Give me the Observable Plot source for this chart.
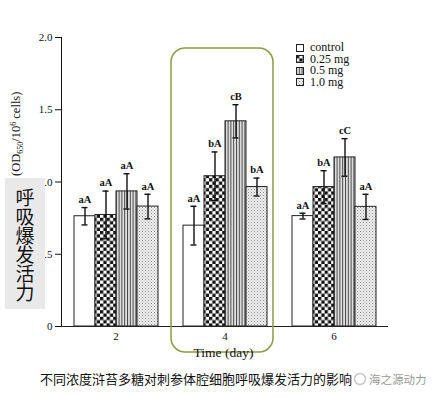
<!DOCTYPE html>
<html>
<head>
<meta charset="utf-8">
<script src="https://cdn.jsdelivr.net/npm/d3@7"></script>
<script src="https://cdn.jsdelivr.net/npm/@observablehq/plot@0.6"></script>
<style>
  html, body { margin: 0; padding: 0; background: white; }
  #wrap { position: relative; width: 432px; height: 397px; overflow: hidden; background: white; }
  #legend { position: absolute; left: 296px; top: 42px; font-family: 'Liberation Serif', serif; font-size: 12px; line-height: 11.5px; color: #111; }
  #legend div { display: flex; align-items: center; white-space: nowrap; }
  #legend svg { margin-right: 6px; }
  #cnbox { position: absolute; left: 5px; top: 178px; width: 40px; height: 131px; background: #e9e9e9;
           font-family: 'Noto Sans CJK SC', sans-serif; font-size: 19px; line-height: 19px; color: #111;
           display: flex; flex-direction: column; align-items: center; justify-content: center; }
  #caption { position: absolute; left: 40px; top: 369px; font-family: 'Noto Sans CJK SC', sans-serif; font-size: 13px; color: #111; white-space: nowrap; display: flex; align-items: center; }
  #caption .wm { color: #9a9a9a; font-size: 11.5px; margin-left: 2px; }
  #caption svg { margin-left: 1px; }
</style>
</head>
<body>
<div id="wrap">
  <div id="chart"></div>
  <div id="legend"></div>
  <div id="cnbox"></div>
  <div id="caption"></div>
</div>
<script>
// ---- data ----
const days = ["2", "4", "6"];
const series = ["control", "0.25 mg", "0.5 mg", "1.0 mg"];
const controlVals = [0.763, 0.698, 0.764];
const mg025Vals   = [0.772, 1.040, 0.965];
const mg05Vals    = [0.935, 1.420, 1.170];
const mg10Vals    = [0.830, 0.965, 0.828];
const controlErr  = [0.060, 0.134, 0.020];
const mg025Err    = [0.165, 0.168, 0.113];
const mg05Err     = [0.122, 0.115, 0.130];
const mg10Err     = [0.085, 0.062, 0.087];
const controlLbl  = ["aA", "aA", "aA"];
const mg025Lbl    = ["aA", "bA", "bA"];
const mg05Lbl     = ["aA", "cB", "cC"];
const mg10Lbl     = ["aA", "bA", "aA"];
const yTicks = [0, 0.5, 1.0, 1.5, 2.0];
const titleCN = "不同浓度浒苔多糖对刺参体腔细胞呼吸爆发活力的影响";
const watermark = "海之源动力";
const boxCN = "呼吸爆发活力";

const valArr = [controlVals, mg025Vals, mg05Vals, mg10Vals];
const errArr = [controlErr, mg025Err, mg05Err, mg10Err];
const lblArr = [controlLbl, mg025Lbl, mg05Lbl, mg10Lbl];
const rows = days.flatMap((day, i) => series.map((s, j) => ({
  day, series: s, value: valArr[j][i], err: errArr[j][i], label: lblArr[j][i]
})));

const fills = ["white", "url(#pChk)", "url(#pStr)", "url(#pDot)"];

const plot = Plot.plot({
  width: 432,
  height: 362,
  marginLeft: 60,
  marginRight: 44,
  marginTop: 37,
  marginBottom: 36,
  style: { fontFamily: "'Liberation Serif', serif", fontSize: "11px", background: "white", color: "#111" },
  facet: { data: rows, x: "day" },
  fx: { domain: days, padding: 0, label: null, tickSize: 0, tickPadding: 6 },
  x: { domain: series, paddingInner: 0, paddingOuter: 0.5, axis: null },
  y: { domain: [0, 2], ticks: yTicks, tickFormat: d => d === 0 ? "0" : d.toFixed(1), line: true, label: null, tickSize: 6, tickPadding: 3 },
  color: { domain: series, range: fills },
  marks: [
    Plot.barY(rows, { x: "series", y: "value", fill: "series", stroke: "#222", strokeWidth: 1 }),
    Plot.ruleX(rows, { x: "series", y1: d => d.value - d.err, y2: d => d.value + d.err, stroke: "#111", strokeWidth: 1.4 }),
    Plot.tickY(rows, { x: "series", y: d => d.value + d.err, insetLeft: 7.5, insetRight: 7.5, stroke: "#111", strokeWidth: 1.4 }),
    Plot.tickY(rows, { x: "series", y: d => d.value - d.err, insetLeft: 7.5, insetRight: 7.5, stroke: "#111", strokeWidth: 1.4 }),
    Plot.text(rows, { x: "series", y: d => d.value + d.err, text: "label", dy: -8, fontWeight: "bold", fontSize: 10.5, fill: "#111" }),
    Plot.ruleY([0], { stroke: "#222", strokeWidth: 1 })
  ]
});

const svg = d3.select(plot);
const defs = svg.insert("defs", ":first-child");
const chk = defs.append("pattern").attr("id", "pChk").attr("patternUnits", "userSpaceOnUse").attr("width", 6.6).attr("height", 6.6);
chk.append("rect").attr("width", 6.6).attr("height", 6.6).attr("fill", "white");
chk.append("rect").attr("width", 3.3).attr("height", 3.3).attr("fill", "#111");
chk.append("rect").attr("x", 3.3).attr("y", 3.3).attr("width", 3.3).attr("height", 3.3).attr("fill", "#111");
const str = defs.append("pattern").attr("id", "pStr").attr("patternUnits", "userSpaceOnUse").attr("width", 2.8).attr("height", 10);
str.append("rect").attr("width", 2.8).attr("height", 10).attr("fill", "#e2e2e2");
str.append("rect").attr("width", 1).attr("height", 10).attr("fill", "#444");
const dot = defs.append("pattern").attr("id", "pDot").attr("patternUnits", "userSpaceOnUse").attr("width", 3).attr("height", 3);
dot.append("rect").attr("width", 3).attr("height", 3).attr("fill", "#f0f0f0");
dot.append("rect").attr("width", 1).attr("height", 1).attr("fill", "#8a8a8a");
dot.append("rect").attr("x", 1.5).attr("y", 1.5).attr("width", 1).attr("height", 1).attr("fill", "#aaaaaa");

// highlight around day 4 using the fx scale
const fx = plot.scale("fx");
const ySc = plot.scale("y");
const x4 = fx.apply("4");
svg.append("rect")
  .attr("x", x4 + 1).attr("y", 48)
  .attr("width", fx.bandwidth - 7).attr("height", 304)
  .attr("rx", 14).attr("ry", 14)
  .attr("fill", "none").attr("stroke", "#8f9a45").attr("stroke-width", 1.5);

// x axis title
svg.append("text")
  .attr("x", x4 + fx.bandwidth / 2 - 1).attr("y", 357)
  .attr("text-anchor", "middle")
  .attr("font-family", "'Liberation Serif', serif").attr("font-size", 13.5).attr("fill", "#111")
  .text("Time (day)");

// y axis title with sub/superscripts
const yl = svg.append("text")
  .attr("transform", `translate(20,${ySc.apply(1.33)}) rotate(-90)`)
  .attr("text-anchor", "middle")
  .attr("font-family", "'Liberation Serif', serif").attr("font-size", 12.5).attr("fill", "#111");
yl.append("tspan").text("(OD");
yl.append("tspan").attr("dy", 3).attr("font-size", 8).text("650");
yl.append("tspan").attr("dy", -3).text("/10");
yl.append("tspan").attr("dy", -4).attr("font-size", 8).text("6");
yl.append("tspan").attr("dy", 4).text(" cells)");

document.getElementById("chart").appendChild(plot);

// legend
const leg = d3.select("#legend");
series.forEach((s, j) => {
  const row = leg.append("div");
  const sv = row.append("svg").attr("width", 8).attr("height", 8);
  sv.append("rect").attr("x", 0.5).attr("y", 0.5).attr("width", 7).attr("height", 7)
    .attr("fill", fills[j]).attr("stroke", "#222").attr("stroke-width", 1);
  row.append("span").text(s);
});

// Chinese overlay box
const box = d3.select("#cnbox");
Array.from(boxCN).forEach(ch => box.append("div").text(ch));

// caption
const cap = d3.select("#caption");
cap.append("span").text(titleCN);
const ic = cap.append("svg").attr("width", 14).attr("height", 14);
ic.append("circle").attr("cx", 7).attr("cy", 7).attr("r", 5.5).attr("fill", "none").attr("stroke", "#c8c8c8").attr("stroke-width", 1.5);
cap.append("span").attr("class", "wm").text(watermark);
</script>
</body>
</html>
